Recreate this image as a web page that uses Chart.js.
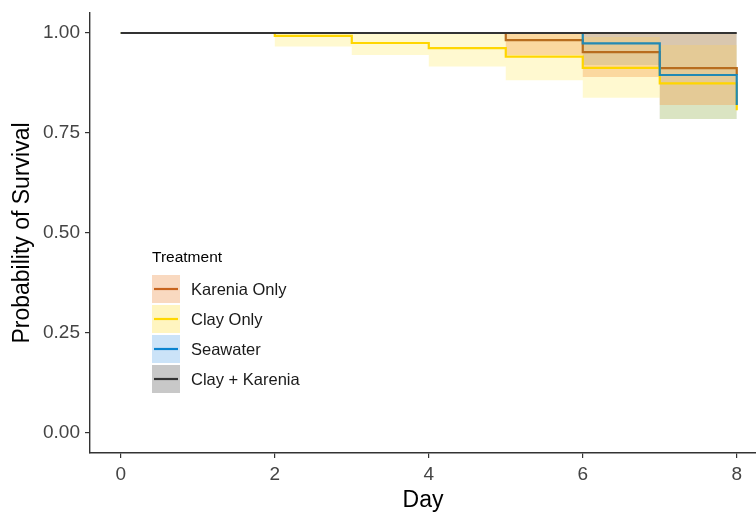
<!DOCTYPE html>
<html>
<head>
<meta charset="utf-8">
<script src="https://cdn.jsdelivr.net/npm/chart.js@4"></script>
<style>
  html, body { margin: 0; padding: 0; background: #fff; }
  #wrap { width: 756px; height: 514px; }
</style>
</head>
<body>
<div id="wrap"><canvas id="km" width="756" height="514"></canvas></div>
<script>
// ---------- Data ----------
const seriesNames = ["Karenia Only", "Clay Only", "Seawater", "Clay + Karenia"];

const kareniaDays  = [0, 5, 6, 7, 8];
const kareniaSurv  = [1, 0.982, 0.952, 0.912, 0.895];
const kareniaUpper = [1, 1, 1, 1, 1];
const kareniaLower = [1, 0.945, 0.89, 0.82, 0.82];

const clayDays  = [0, 2, 3, 4, 5, 6, 7, 8];
const claySurv  = [1, 0.993, 0.975, 0.962, 0.941, 0.913, 0.874, 0.807];
const clayUpper = [1, 1, 1, 1, 1, 0.99, 0.97, 0.97];
const clayLower = [1, 0.966, 0.945, 0.916, 0.882, 0.838, 0.785, 0.785];

const seaDays  = [0, 6, 7, 8];
const seaSurv  = [1, 0.974, 0.895, 0.82];
const seaUpper = [1, 1, 1, 1];
const seaLower = [1, 0.92, 0.785, 0.785];

const ckDays  = [0, 8];
const ckSurv  = [1, 1];
const ckUpper = [1, 1];
const ckLower = [1, 1];

const xTicks = [0, 2, 4, 6, 8];
const yTicks = [0, 0.25, 0.5, 0.75, 1];

// ---------- Styles ----------
const lineColors = ["#b86d1e", "#ffd600", "#2189b4", "#333333"];
const bandColors = ["rgba(244,160,80,0.38)", "rgba(255,236,110,0.32)", "rgba(110,170,200,0.38)", "rgba(130,130,130,0.35)"];
const keyLine    = ["#c8641e", "#ffd700", "#0a84d0", "#333333"];
const keyFill    = ["#f9d9c0", "#fff5c0", "#cbe3f8", "#c8c8c8"];
const FAMILY = "'Liberation Sans', Arial, sans-serif";

function pts(days, vals) { return days.map((d, i) => ({ x: d, y: vals[i] })); }

const groups = [
  [kareniaDays, kareniaSurv, kareniaUpper, kareniaLower],
  [clayDays, claySurv, clayUpper, clayLower],
  [seaDays, seaSurv, seaUpper, seaLower],
  [ckDays, ckSurv, ckUpper, ckLower],
];

const datasets = [];
// bands: upper fills down to the following (lower) dataset
groups.forEach((g, i) => {
  datasets.push({ data: pts(g[0], g[2]), stepped: "before", borderWidth: 0, pointRadius: 0,
    fill: "+1", backgroundColor: bandColors[i], order: 3 });
  datasets.push({ data: pts(g[0], g[3]), stepped: "before", borderWidth: 0, pointRadius: 0,
    fill: false, order: 3 });
});
// survival curves on top
groups.forEach((g, i) => {
  datasets.push({ label: seriesNames[i], data: pts(g[0], g[1]), stepped: "before",
    borderColor: lineColors[i], borderWidth: 2.2, pointRadius: 0, fill: false, order: 2 - i * 0.1 });
});

// legend drawn inside the plot area
const insideLegend = {
  id: "insideLegend",
  afterDraw(chart) {
    const c = chart.ctx;
    c.save();
    c.fillStyle = "#000";
    c.textBaseline = "middle";
    c.font = "15.5px " + FAMILY;
    c.fillText("Treatment", 152, 258);
    c.font = "16.5px " + FAMILY;
    seriesNames.forEach((n, i) => {
      const cy = 289 + i * 30;
      c.fillStyle = keyFill[i];
      c.fillRect(152, cy - 14, 28, 28);
      c.strokeStyle = keyLine[i];
      c.lineWidth = 2.2;
      c.beginPath(); c.moveTo(154, cy); c.lineTo(178, cy); c.stroke();
      c.fillStyle = "#1a1a1a";
      c.fillText(n, 191, cy + 1);
    });
    c.restore();
  }
};

const axisFont  = { family: FAMILY, size: 19 };
const titleFont = { family: FAMILY, size: 23 };

new Chart(document.getElementById("km"), {
  type: "line",
  data: { datasets },
  plugins: [insideLegend],
  options: {
    responsive: false,
    animation: false,
    layout: { padding: { top: 13, right: 0, left: 0, bottom: 0 } },
    plugins: { legend: { display: false }, tooltip: { enabled: false } },
    scales: {
      x: {
        type: "linear", min: -0.4, max: 8.25,
        afterBuildTicks: s => { s.ticks = xTicks.map(v => ({ value: v })); },
        afterFit: s => { s.height = 61; s.paddingLeft = 0; s.paddingRight = 0; },
        ticks: { color: "#444", font: axisFont, padding: 5, maxRotation: 0 },
        grid: { display: true, drawOnChartArea: false, drawTicks: true, tickLength: 5, color: "#333", lineWidth: 1.2 },
        border: { display: true, color: "#333", width: 1.4 },
        title: { display: true, text: "Day", color: "#000", font: titleFont, padding: { top: 0, bottom: 0 } }
      },
      y: {
        type: "linear", min: -0.05, max: 1.05,
        afterBuildTicks: s => { s.ticks = yTicks.map(v => ({ value: v })); },
        afterFit: s => { s.width = 90; s.paddingTop = 0; s.paddingBottom = 0; },
        ticks: { color: "#444", font: axisFont, padding: 5, callback: v => Number(v).toFixed(2) },
        grid: { display: true, drawOnChartArea: false, drawTicks: true, tickLength: 5, color: "#333", lineWidth: 1.2 },
        border: { display: true, color: "#333", width: 1.4 },
        title: { display: true, text: "Probability of Survival", color: "#000", font: titleFont, padding: { top: 9, bottom: 0 } }
      }
    }
  }
});
</script>
</body>
</html>
